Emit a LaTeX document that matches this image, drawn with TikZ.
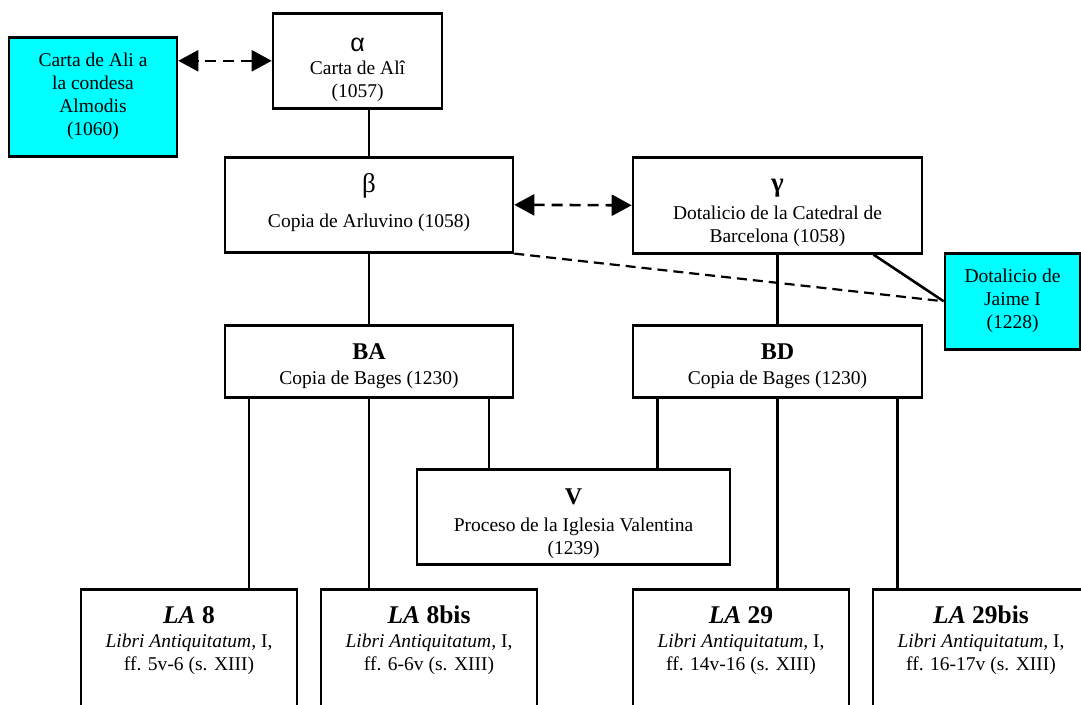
\documentclass[tikz,border=0pt]{standalone}
\usepackage{fontspec}
\setmainfont{Liberation Serif}
\newfontfamily\greeksans{Liberation Sans}
\usetikzlibrary{arrows.meta}
\definecolor{aqua}{RGB}{0,255,255}
\newcommand{\txtsize}{\fontsize{19.5}{23}\selectfont}
\newcommand{\ttlsize}{\fontsize{24}{26}\selectfont\bfseries}
\newcommand{\lasize}{\fontsize{25.5}{26}\selectfont\bfseries}

\begin{document}
\begin{tikzpicture}[x=1pt,y=-1pt,
	box/.style={draw, line width=2.6pt, fill=white, align=center, anchor=north, inner xsep=2pt, inner ysep=0pt, font=\txtsize},
	cyanbox/.style={box, fill=aqua},
	conn/.style={line width=2.6pt},
	dashline/.style={line width=2.2pt, dash pattern=on 10pt off 6pt},
	dblarrow/.style={line width=2.6pt, dash pattern=on 11pt off 7pt, {Triangle[length=20pt,width=21pt]}-{Triangle[length=20pt,width=21pt]}}]
		\useasboundingbox (0,0) rectangle (1081,704);
		\clip (0,0) rectangle (1081,704);
		\fill[white] (0,0) rectangle (1081,704);
		\draw (93,36) node[cyanbox, minimum width=168pt, text height=98pt, text depth=21pt] (almodis) {Carta de Ali a\\la condesa\\Almodis\\(1060)};
		\draw (357.5,12) node[box, minimum width=169pt, text height=84pt, text depth=11pt] (alpha) {{\greeksans\fontsize{25}{25}\selectfont α}\\Carta de Alî\\(1057)};
		\draw (369,156) node[box, minimum width=288pt, text height=70pt, text depth=25pt] (beta) {{\fontsize{27}{27}\selectfont β}\\[12pt]Copia de Arluvino (1058)};
		\draw (777.5,156) node[box, minimum width=289pt, text height=85pt, text depth=11pt] (gamma) {{\fontsize{27}{27}\selectfont\bfseries γ}\\[5pt]Dotalicio de la Catedral de\\Barcelona (1058)};
		\draw (1012.5,252) node[cyanbox, minimum width=135pt, text height=75pt, text depth=21pt] (jaime) {Dotalicio de\\Jaime I\\(1228)};
		\draw (369,324) node[box, minimum width=288pt, text height=59pt, text depth=13pt] (ba) {{\ttlsize BA}\\[2pt]Copia de Bages (1230)};
		\draw (777.5,324) node[box, minimum width=289pt, text height=59pt, text depth=13pt] (bd) {{\ttlsize BD}\\[2pt]Copia de Bages (1230)};
		\draw (573.5,468) node[box, minimum width=313pt, text height=85pt, text depth=10pt] (v) {{\ttlsize V}\\[4pt]Proceso de la Iglesia Valentina\\(1239)};
		\draw (189,588) node[box, minimum width=216pt, text height=81pt, text depth=150pt] (la8) {{\lasize\textit{LA} 8}\\[1pt]\textit{Libri Antiquitatum}, I,\\ff. 5v-6 (s. XIII)};
		\draw (429,588) node[box, minimum width=216pt, text height=81pt, text depth=150pt] (la8bis) {{\lasize\textit{LA} 8bis}\\[1pt]\textit{Libri Antiquitatum}, I,\\ff. 6-6v (s. XIII)};
		\draw (741,588) node[box, minimum width=216pt, text height=81pt, text depth=150pt] (la29) {{\lasize\textit{LA} 29}\\[1pt]\textit{Libri Antiquitatum}, I,\\ff. 14v-16 (s. XIII)};
		\draw (981,588) node[box, minimum width=216pt, text height=81pt, text depth=150pt] (la29bis) {{\lasize\textit{LA} 29bis}\\[1pt]\textit{Libri Antiquitatum}, I,\\ff. 16-17v (s. XIII)};
		\draw[dblarrow] (alpha.west) -- (alpha.west -| almodis.east);
		\draw[dblarrow] (beta.east) -- (gamma.west);
		\draw[conn] (alpha.south -| beta.north) -- (beta.north);
		\draw[conn] (beta.south) -- (ba.north);
		\draw[conn] (gamma.south) -- (bd.north);
		\draw[conn] ([xshift=96pt]gamma.south) -- (jaime.west);
		\draw[dashline] (beta.south east) -- (jaime.west);
		\draw[conn] ([xshift=-120pt]ba.south) -- ([xshift=-120pt]ba.south |- la8.north);
		\draw[conn] (ba.south) -- (ba.south |- la8bis.north);
		\draw[conn] ([xshift=120pt]ba.south) -- ([xshift=120pt]ba.south |- v.north);
		\draw[conn] ([xshift=-120pt]bd.south) -- ([xshift=-120pt]bd.south |- v.north);
		\draw[conn] (bd.south) -- (bd.south |- la29.north);
		\draw[conn] ([xshift=120pt]bd.south) -- ([xshift=120pt]bd.south |- la29bis.north);
	\end{tikzpicture}
\end{document}
